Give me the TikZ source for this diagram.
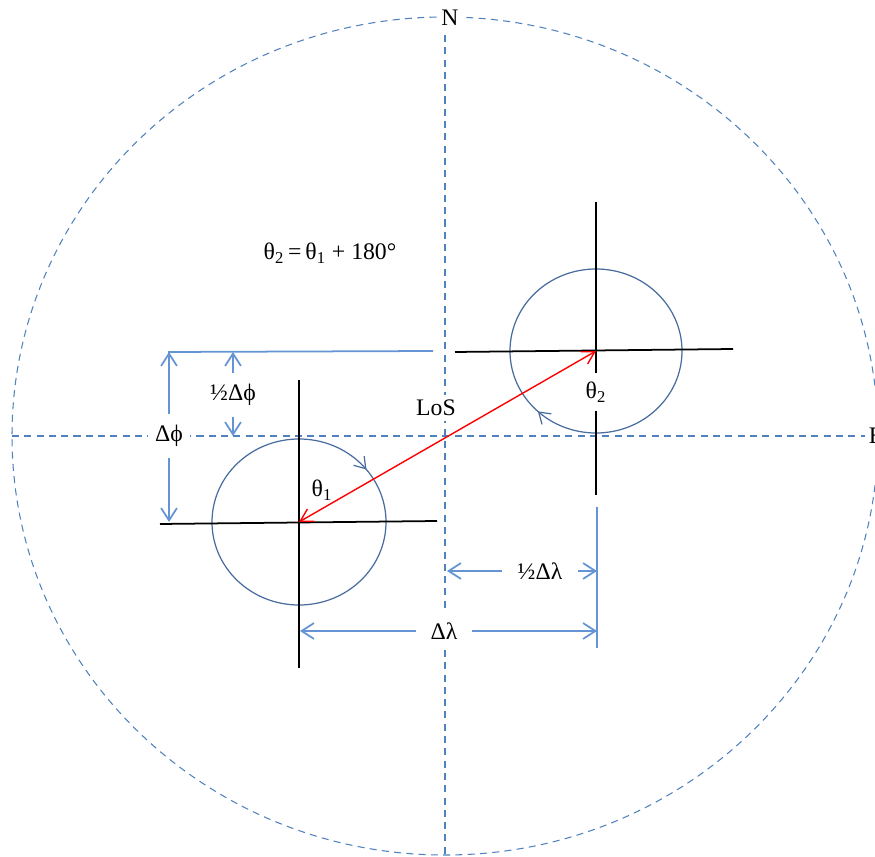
\documentclass[tikz,border=0pt]{standalone}
\usepackage{fontspec}
\setmainfont{Liberation Serif}
\usetikzlibrary{arrows.meta,decorations.markings}
\definecolor{gridblue}{RGB}{79,129,189}
\definecolor{dimblue}{RGB}{100,148,212}
\definecolor{ringblue}{RGB}{72,108,160}
\begin{document}
\begin{tikzpicture}[x=0.02cm,y=-0.02cm,font=\fontsize{13.5}{15}\selectfont]
            %
            % `guide' is used for the dashed compass circle and axes.
            % `ring' is used for the two small circles.
            % `cross' is used for the black cross lines.
            % `dim' is used for the dimension lines.
            % `lbl' is used for labels that break a line.
            \tikzstyle{guide} = [draw=gridblue,line width=0.6pt,dash pattern=on 4pt off 3pt]
            \tikzstyle{ring} = [draw=ringblue,line width=0.7pt]
            \tikzstyle{cross} = [draw=black,line width=1pt]
            \tikzstyle{dim} = [draw=dimblue,line width=1pt,-{Straight Barb[length=7pt,width=9pt]}]
            \tikzstyle{dimline} = [draw=dimblue,line width=1pt]
            \tikzstyle{lbl} = [fill=white,inner xsep=4pt,inner ysep=6pt]
            \tikzstyle{spin} = [postaction={decorate},decoration={markings,
                mark=at position #1 with {\arrow[line width=0.7pt]{Straight Barb[length=6pt,width=8pt]}}}]
            \useasboundingbox (0,0) rectangle (875,857);
            %
            % Compass circle and axes
            \coordinate (o) at (445,436);
            \draw[guide] (o) ellipse [x radius=433,y radius=419];
            \node[fill=white,inner sep=2pt] (north) at (450,18) {N};
            \node[fill=white,inner sep=2pt,anchor=west] (east) at (865,436) {E};
            \coordinate (n) at (445,35);
            \coordinate (s) at (445,857);
            \coordinate (w) at (12,436);
            \draw[guide] (n) -- (s);
            \draw[guide] (w) -- (east);
            %
            % Equation
            \node (eqn) at (330,253) {θ\textsubscript{2}\,=\,θ\textsubscript{1} + 180°};
            %
            % Circle 1
            \coordinate (c1) at (299,522);
            \draw[ring,spin=0.893] (c1) ellipse [x radius=87,y radius=83];
            \coordinate (h1a) at (160,524);
            \coordinate (h1b) at (437,521);
            \coordinate (v1a) at (299,380);
            \coordinate (v1b) at (299,668);
            \draw[cross] (h1a) -- (h1b);
            \draw[cross] (v1a) -- (v1b);
            \node (theta1) at (322,490) {θ\textsubscript{1}};
            %
            % Circle 2
            \coordinate (c2) at (596,351);
            \draw[ring,spin=0.37] (c2) ellipse [x radius=86,y radius=82];
            \coordinate (h2a) at (455,352);
            \coordinate (h2b) at (733,349);
            \coordinate (v2a) at (596,202);
            \coordinate (v2b) at (596,495);
            \draw[cross] (h2a) -- (h2b);
            \draw[cross] (v2a) -- (v2b);
            \node[fill=white,inner xsep=1pt,inner ysep=5pt] (theta2) at (596,392) {θ\textsubscript{2}};
            %
            % Line of sight
            \draw[red,line width=0.8pt,{Straight Barb[length=7pt,width=8pt]}-{Straight Barb[length=7pt,width=8pt]}] (c1) -- (c2);
            \node[fill=white,inner sep=3pt] (los) at (436,408) {LoS};
            %
            % Latitude dimensions
            \coordinate (phitop) at (168,352);
            \coordinate (phiend) at (433,351);
            \draw[dimline] (phitop) -- (phiend);
            \node[lbl] (dphi) at (169,436) {Δϕ};
            \coordinate (dphiup) at (169,352);
            \coordinate (dphidown) at (169,522);
            \draw[dim] (dphi) -- (dphiup);
            \draw[dim] (dphi) -- (dphidown);
            \node[lbl] (hphi) at (233,395) {½Δϕ};
            \coordinate (hphiup) at (233,352);
            \coordinate (hphidown) at (233,436);
            \draw[dim] (hphi) -- (hphiup);
            \draw[dim] (hphi) -- (hphidown);
            %
            % Longitude dimensions
            \coordinate (lamtop) at (597,507);
            \coordinate (lambot) at (597,648);
            \draw[dimline] (lamtop) -- (lambot);
            \node[lbl,inner xsep=9pt] (hlam) at (540,571) {½Δλ};
            \coordinate (hlamleft) at (447,571);
            \coordinate (hlamright) at (597,571);
            \draw[dim] (hlam) -- (hlamleft);
            \draw[dim] (hlam) -- (hlamright);
            \node[lbl,inner xsep=8pt] (dlam) at (444,631) {Δλ};
            \coordinate (dlamleft) at (300,631);
            \coordinate (dlamright) at (597,631);
            \draw[dim] (dlam) -- (dlamleft);
            \draw[dim] (dlam) -- (dlamright);
        \end{tikzpicture}
\end{document}
